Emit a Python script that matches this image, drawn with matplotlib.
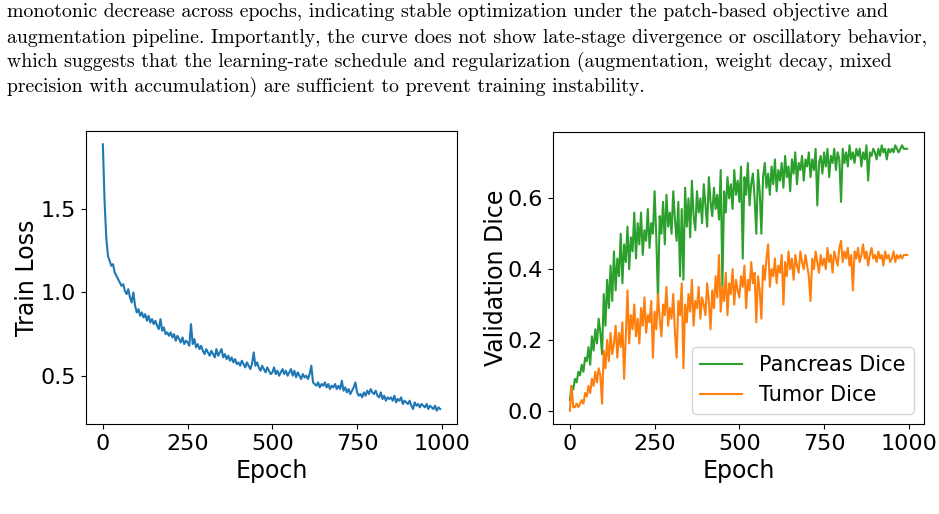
import numpy as np
import matplotlib
matplotlib.use("Agg")
from matplotlib import pyplot as plt

# texto do paragrafo acima da figura
paragraph = [
    "monotonic decrease across epochs, indicating stable optimization under the patch-based objective and",
    "augmentation pipeline. Importantly, the curve does not show late-stage divergence or oscillatory behavior,",
    "which suggests that the learning-rate schedule and regularization (augmentation, weight decay, mixed",
    "precision with accumulation) are sufficient to prevent training instability.",
]

# uma amostra a cada 5 epocas
epochs = np.arange(0, 1000, 5)

train_loss = [
    1.89, 1.55, 1.33, 1.22, 1.19, 1.16, 1.17, 1.12, 1.10, 1.08,
    1.06, 1.04, 1.05, 1.01, 0.99, 1.02, 0.97, 0.94, 1.00, 0.92,
    0.88, 0.90, 0.86, 0.88, 0.85, 0.87, 0.83, 0.86, 0.82, 0.84,
    0.81, 0.83, 0.80, 0.78, 0.84, 0.77, 0.79, 0.75, 0.76, 0.74,
    0.76, 0.73, 0.75, 0.71, 0.74, 0.72, 0.70, 0.73, 0.69, 0.71,
    0.70, 0.68, 0.81, 0.69, 0.72, 0.67, 0.69, 0.66, 0.68, 0.65,
    0.63, 0.66, 0.64, 0.62, 0.65, 0.63, 0.61, 0.66, 0.62, 0.64,
    0.66, 0.61, 0.63, 0.60, 0.62, 0.59, 0.61, 0.58, 0.60, 0.57,
    0.58, 0.56, 0.59, 0.57, 0.55, 0.58, 0.56, 0.54, 0.57, 0.64,
    0.56, 0.58, 0.55, 0.53, 0.56, 0.54, 0.52, 0.55, 0.53, 0.51,
    0.52, 0.55, 0.51, 0.53, 0.50, 0.52, 0.54, 0.51, 0.53, 0.50,
    0.52, 0.54, 0.50, 0.53, 0.49, 0.52, 0.50, 0.48, 0.51, 0.49,
    0.50, 0.48, 0.51, 0.56, 0.46, 0.45, 0.44, 0.46, 0.43, 0.45,
    0.44, 0.46, 0.43, 0.45, 0.42, 0.44, 0.43, 0.45, 0.42, 0.44,
    0.42, 0.47, 0.41, 0.43, 0.40, 0.42, 0.39, 0.41, 0.43, 0.46,
    0.40, 0.38, 0.39, 0.37, 0.40, 0.38, 0.41, 0.39, 0.42, 0.40,
    0.39, 0.41, 0.38, 0.37, 0.40, 0.36, 0.38, 0.35, 0.37, 0.36,
    0.37, 0.35, 0.38, 0.34, 0.36, 0.35, 0.37, 0.33, 0.35, 0.34,
    0.33, 0.35, 0.32, 0.30, 0.34, 0.32, 0.33, 0.31, 0.33, 0.32,
    0.31, 0.33, 0.30, 0.32, 0.31, 0.30, 0.32, 0.29, 0.31, 0.30,
]

pancreas_dice = [
    0.03, 0.07, 0.06, 0.09, 0.08, 0.11, 0.10, 0.13, 0.11, 0.15,
    0.14, 0.18, 0.13, 0.21, 0.17, 0.23, 0.19, 0.26, 0.22, 0.16,
    0.33, 0.24, 0.37, 0.29, 0.41, 0.31, 0.45, 0.34, 0.43, 0.38,
    0.50, 0.36, 0.47, 0.42, 0.52, 0.40, 0.49, 0.45, 0.56, 0.43,
    0.53, 0.47, 0.56, 0.44, 0.51, 0.48, 0.57, 0.46, 0.53, 0.50,
    0.62, 0.49, 0.31, 0.55, 0.50, 0.59, 0.47, 0.61, 0.52, 0.56,
    0.50, 0.62, 0.54, 0.48, 0.59, 0.38, 0.57, 0.37, 0.63, 0.52,
    0.60, 0.49, 0.65, 0.55, 0.51, 0.62, 0.56, 0.60, 0.53, 0.64,
    0.58, 0.52, 0.66, 0.59, 0.55, 0.63, 0.57, 0.61, 0.54, 0.68,
    0.35, 0.62, 0.56, 0.66, 0.60, 0.64, 0.57, 0.68, 0.61, 0.65,
    0.59, 0.69, 0.43, 0.66, 0.61, 0.70, 0.58, 0.64, 0.67, 0.60,
    0.50, 0.68, 0.62, 0.50, 0.66, 0.70, 0.63, 0.67, 0.61, 0.69,
    0.64, 0.71, 0.62, 0.68, 0.65, 0.70, 0.63, 0.72, 0.66, 0.69,
    0.62, 0.71, 0.67, 0.73, 0.64, 0.70, 0.68, 0.72, 0.65, 0.71,
    0.69, 0.73, 0.66, 0.71, 0.68, 0.74, 0.58, 0.70, 0.72, 0.67,
    0.73, 0.69, 0.74, 0.66, 0.72, 0.70, 0.74, 0.68, 0.73, 0.71,
    0.59, 0.74, 0.70, 0.73, 0.69, 0.75, 0.71, 0.73, 0.70, 0.74,
    0.72, 0.74, 0.69, 0.73, 0.71, 0.75, 0.65, 0.73, 0.72, 0.74,
    0.73, 0.71, 0.74, 0.72, 0.75, 0.73, 0.74, 0.71, 0.74, 0.73,
    0.74, 0.73, 0.75, 0.74, 0.73, 0.74, 0.75, 0.74, 0.74, 0.74,
]

tumor_dice = [
    0.00, 0.07, 0.01, 0.01, 0.02, 0.01, 0.02, 0.03, 0.02, 0.05,
    0.04, 0.07, 0.05, 0.09, 0.07, 0.11, 0.08, 0.12, 0.10, 0.02,
    0.17, 0.12, 0.20, 0.14, 0.22, 0.16, 0.19, 0.24, 0.15, 0.22,
    0.18, 0.25, 0.09, 0.21, 0.34, 0.19, 0.27, 0.23, 0.30, 0.21,
    0.26, 0.19, 0.29, 0.24, 0.32, 0.22, 0.27, 0.25, 0.31, 0.15,
    0.28, 0.23, 0.33, 0.26, 0.21, 0.30, 0.27, 0.35, 0.24, 0.29,
    0.26, 0.33, 0.22, 0.15, 0.31, 0.27, 0.36, 0.12, 0.30, 0.25,
    0.33, 0.28, 0.37, 0.24, 0.31, 0.29, 0.35, 0.26, 0.32, 0.30,
    0.27, 0.36, 0.31, 0.23, 0.34, 0.29, 0.38, 0.32, 0.44, 0.28,
    0.35, 0.31, 0.39, 0.27, 0.36, 0.33, 0.40, 0.30, 0.37, 0.34,
    0.32, 0.38, 0.35, 0.41, 0.29, 0.37, 0.34, 0.42, 0.36, 0.39,
    0.25, 0.38, 0.34, 0.26, 0.41, 0.37, 0.43, 0.47, 0.35, 0.40,
    0.38, 0.43, 0.36, 0.41, 0.39, 0.44, 0.30, 0.42, 0.38, 0.45,
    0.40, 0.43, 0.37, 0.44, 0.41, 0.39, 0.45, 0.42, 0.40, 0.44,
    0.41, 0.38, 0.31, 0.43, 0.40, 0.45, 0.42, 0.39, 0.44, 0.41,
    0.43, 0.40, 0.46, 0.42, 0.44, 0.39, 0.45, 0.43, 0.41, 0.46,
    0.48, 0.42, 0.45, 0.43, 0.46, 0.41, 0.44, 0.34, 0.45, 0.43,
    0.46, 0.42, 0.44, 0.47, 0.43, 0.45, 0.41, 0.44, 0.46, 0.43,
    0.44, 0.42, 0.45, 0.43, 0.44, 0.41, 0.45, 0.43, 0.44, 0.42,
    0.43, 0.45, 0.42, 0.44, 0.43, 0.44, 0.43, 0.44, 0.44, 0.44,
]

fig = plt.figure(figsize=(9.39, 5.14), dpi=100)

# paragrafo em fonte tipo LaTeX
baselines = [17, 43, 67, 92]  # px a partir do topo
texts = []
for line, yb in zip(paragraph, baselines):
    t = fig.text(7 / 939, 1 - yb / 514, line, family="cmr10", fontsize=15,
                 va="baseline", ha="left")
    texts.append(t)

# ajusta o tamanho da fonte para a largura da linha mais longa
fig.canvas.draw()
w = texts[1].get_window_extent().width
size = 15 * 925 / w
for t in texts:
    t.set_fontsize(size)

ax1 = fig.add_axes([86 / 939, 90 / 514, 371 / 939, 293 / 514])
ax1.plot(epochs, train_loss, color="tab:blue", lw=1.5)
ax1.set_xlabel("Epoch", fontsize=17)
ax1.set_ylabel("Train Loss", fontsize=17, labelpad=1)
ax1.set_xticks([0, 250, 500, 750, 1000])
ax1.set_yticks([0.5, 1.0, 1.5])
ax1.tick_params(labelsize=16)

ax2 = fig.add_axes([553 / 939, 90 / 514, 371 / 939, 292 / 514])
ax2.plot(epochs, pancreas_dice, color="tab:green", lw=1.5, label="Pancreas Dice")
ax2.plot(epochs, tumor_dice, color="tab:orange", lw=1.5, label="Tumor Dice")
ax2.set_xlabel("Epoch", fontsize=17)
ax2.set_ylabel("Validation Dice", fontsize=17, labelpad=0)
ax2.set_xticks([0, 250, 500, 750, 1000])
ax2.set_yticks([0.0, 0.2, 0.4, 0.6])
ax2.tick_params(labelsize=16)
ax2.legend(loc="lower right", fontsize=15)

fig.savefig("out.png", dpi=100)
